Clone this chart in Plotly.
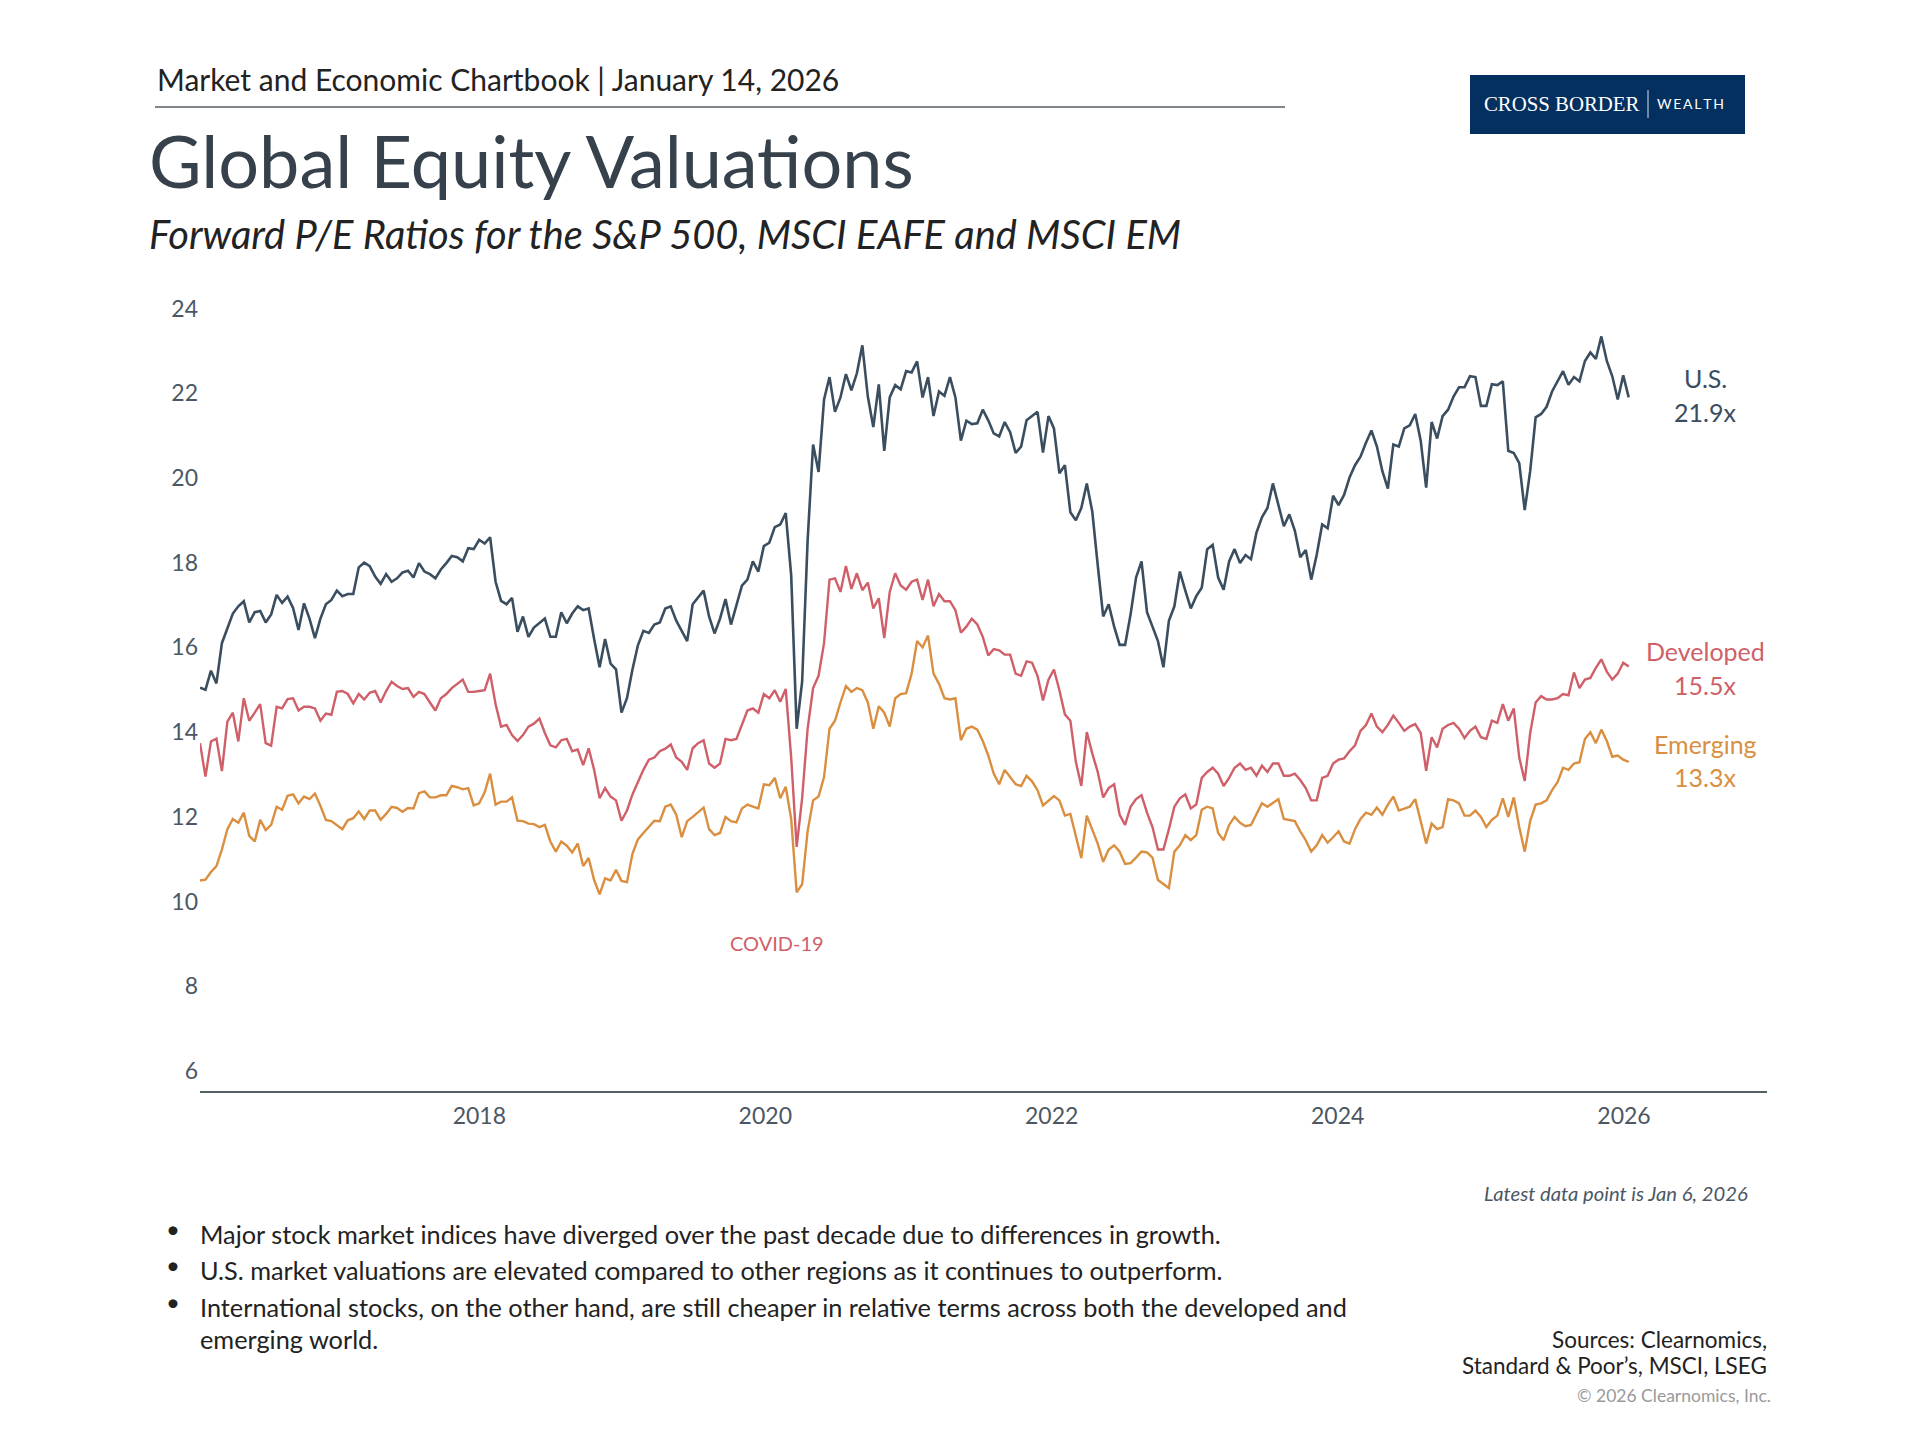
import pandas as pd
import plotly.graph_objects as go

# roughly biweekly readings
dates = pd.date_range("2016-01-19", "2026-01-13", periods=262)

us = [15.05,15.0,15.45,15.15,16.1,16.44,16.8,16.97,17.09,16.59,16.83,16.86,16.59,16.78,17.24,17.05,17.2,16.93,16.41,17.04,16.68,
      16.22,16.68,17.02,17.12,17.34,17.21,17.26,17.26,17.89,18.0,17.92,17.67,17.5,17.73,17.55,17.63,17.77,17.81,17.65,17.99,
      17.79,17.73,17.63,17.84,17.99,18.16,18.13,18.03,18.34,18.32,18.54,18.45,18.6,17.55,17.1,17.02,17.17,16.37,16.73,16.25,
      16.47,16.57,16.68,16.25,16.25,16.83,16.57,16.8,16.97,16.88,16.92,16.2,15.53,16.2,15.62,15.48,14.46,14.8,15.48,16.05,
      16.39,16.34,16.54,16.59,16.92,16.97,16.63,16.39,16.15,17.02,17.17,17.34,16.73,16.33,16.68,17.14,16.54,16.97,17.46,17.6,
      18.03,17.79,18.39,18.47,18.84,18.9,19.17,17.7,14.08,15.19,18.52,20.79,20.14,21.85,22.38,21.56,21.9,22.45,22.07,22.47,
      23.13,21.92,21.2,22.21,20.64,21.9,22.19,22.09,22.52,22.49,22.75,21.9,22.38,21.46,22.04,21.94,22.38,21.9,20.88,21.35,
      21.27,21.29,21.61,21.36,21.05,20.98,21.32,21.08,20.59,20.74,21.36,21.46,21.56,20.6,21.46,21.17,20.11,20.3,19.19,19.0,
      19.29,19.87,19.21,17.94,16.73,17.02,16.49,16.06,16.06,16.78,17.65,18.03,16.83,16.49,16.15,15.53,16.63,16.97,17.79,17.34,
      16.92,17.21,17.41,18.32,18.42,17.65,17.36,18.03,18.32,17.99,18.18,18.08,18.71,19.07,19.29,19.87,19.39,18.86,19.14,18.76,
      18.13,18.3,17.6,18.18,18.9,18.81,19.58,19.36,19.6,20.01,20.3,20.5,20.83,21.12,20.74,20.16,19.75,20.79,20.74,21.17,
      21.24,21.51,20.88,19.77,21.32,20.93,21.46,21.61,21.92,22.14,22.14,22.4,22.38,21.7,21.7,22.21,22.19,22.28,20.64,20.59,
      20.35,19.24,20.16,21.43,21.51,21.68,22.04,22.28,22.52,22.2,22.38,22.28,22.76,22.96,22.81,23.34,22.76,22.4,21.85,22.42,21.9]

developed = [13.74,12.95,13.78,13.85,13.08,14.25,14.46,13.78,14.8,14.27,14.46,14.66,13.74,13.68,14.6,14.56,14.78,14.8,14.51,14.6,14.6,
      14.56,14.27,14.44,14.41,14.95,14.97,14.9,14.68,14.9,14.77,14.93,14.97,14.7,14.97,15.19,15.09,15.02,15.04,14.83,14.95,
      14.9,14.7,14.51,14.8,14.9,15.04,15.14,15.24,14.95,14.95,14.97,14.99,15.38,14.66,14.13,14.17,13.93,13.79,13.93,14.13,
      14.2,14.32,13.98,13.69,13.64,13.81,13.84,13.55,13.59,13.22,13.62,13.11,12.44,12.68,12.48,12.39,11.91,12.15,12.53,12.82,
      13.11,13.35,13.4,13.55,13.61,13.71,13.4,13.3,13.11,13.62,13.74,13.81,13.26,13.16,13.26,13.84,13.81,13.84,14.17,14.51,
      14.56,14.46,14.9,14.8,14.99,14.72,15.02,13.4,11.29,12.44,14.08,15.04,15.33,16.1,17.6,17.63,17.31,17.92,17.38,17.75,
      17.35,17.53,16.92,17.16,16.22,17.31,17.75,17.46,17.36,17.55,17.6,17.12,17.6,16.97,17.26,17.09,17.09,16.88,16.35,16.49,
      16.68,16.54,16.25,15.81,15.96,15.93,15.83,15.83,15.38,15.33,15.67,15.64,15.33,14.75,15.24,15.48,14.99,14.42,14.27,13.3,
      12.73,14.0,13.5,13.06,12.46,12.68,12.77,12.05,11.81,12.24,12.42,12.51,12.1,11.76,11.23,11.23,11.71,12.24,12.44,12.53,
      12.2,12.29,12.92,13.06,13.16,13.02,12.73,12.92,13.16,13.26,13.11,13.16,12.97,13.21,13.06,13.26,13.26,12.97,12.97,13.02,
      12.87,12.68,12.39,12.39,12.92,12.97,13.26,13.35,13.38,13.55,13.69,14.03,14.17,14.44,14.13,14.0,14.17,14.39,14.22,14.03,
      14.13,14.19,13.98,13.09,13.88,13.64,14.08,14.17,14.22,14.08,13.86,14.03,14.13,13.88,13.84,14.27,14.22,14.66,14.27,14.56,
      13.4,12.85,13.98,14.7,14.85,14.77,14.77,14.8,14.9,14.87,15.41,15.04,15.24,15.28,15.52,15.72,15.43,15.24,15.38,15.64,15.55]

emerging = [10.5,10.52,10.7,10.84,11.23,11.71,11.95,11.86,12.1,11.55,11.42,11.93,11.69,11.81,12.24,12.17,12.5,12.53,12.32,12.48,12.42,
      12.55,12.26,11.93,11.9,11.81,11.71,11.92,11.97,12.13,11.95,12.15,12.15,11.93,12.07,12.24,12.21,12.12,12.21,12.2,12.56,
      12.6,12.46,12.46,12.51,12.51,12.73,12.7,12.65,12.68,12.27,12.32,12.58,13.02,12.29,12.36,12.36,12.46,11.91,11.9,11.84,
      11.83,11.76,11.81,11.42,11.18,11.42,11.32,11.16,11.37,10.84,11.03,10.51,10.17,10.55,10.5,10.75,10.49,10.46,11.13,11.47,
      11.62,11.76,11.91,11.9,12.24,12.29,12.05,11.52,11.9,12.0,12.1,12.22,11.71,11.57,11.62,12.0,11.9,11.87,12.2,12.29,
      12.24,12.2,12.77,12.75,12.92,12.44,12.71,11.95,10.22,10.41,11.66,12.39,12.48,12.94,14.08,14.27,14.7,15.09,14.95,15.04,
      14.99,14.7,14.08,14.61,14.46,14.13,14.8,14.9,14.92,15.38,16.15,16.0,16.28,15.38,15.14,14.8,14.77,14.8,13.81,14.08,
      14.13,14.06,13.79,13.45,13.02,12.77,13.11,12.94,12.77,12.73,12.97,12.84,12.63,12.27,12.39,12.49,12.39,12.03,12.07,11.57,
      11.03,12.03,11.71,11.37,10.94,11.23,11.33,11.18,10.89,10.91,11.04,11.18,11.16,11.04,10.51,10.41,10.32,11.18,11.33,11.57,
      11.45,11.57,12.17,12.24,12.2,11.62,11.45,11.81,12.0,11.86,11.78,11.81,12.05,12.32,12.24,12.32,12.42,11.95,11.93,11.9,
      11.66,11.45,11.18,11.33,11.57,11.39,11.52,11.66,11.42,11.37,11.71,11.95,12.1,12.05,12.22,12.05,12.29,12.48,12.15,12.2,
      12.24,12.42,11.86,11.37,11.84,11.71,11.76,12.42,12.39,12.32,12.03,12.03,12.15,12.0,11.76,11.93,12.03,12.44,12.0,12.46,
      11.76,11.18,11.9,12.29,12.32,12.39,12.63,12.82,13.16,13.11,13.26,13.29,13.84,14.0,13.74,14.06,13.79,13.42,13.45,13.35,13.3]

y_ticks = [6, 8, 10, 12, 14, 16, 18, 20, 22, 24]
x_ticks = ["2018-01-01", "2020-01-01", "2022-01-01", "2024-01-01", "2026-01-01"]
x_labels = ["2018", "2020", "2022", "2024", "2026"]

bullets = [
    "Major stock market indices have diverged over the past decade due to differences in growth.",
    "U.S. market valuations are elevated compared to other regions as it continues to outperform.",
    "International stocks, on the other hand, are still cheaper in relative terms across both the developed and",
    "emerging world.",
]

W, H = 1920, 1440
FONT = "Lato"
NAVY = "#3a4e5f"
RED = "#cf5f68"
ORANGE = "#d98f3f"
GREY = "#4b5763"


def px(x):
    return x / W


def py(y):
    return 1 - y / H


fig = go.Figure()
fig.add_trace(go.Scatter(x=dates, y=emerging, mode="lines", line=dict(color=ORANGE, width=2.4), name="Emerging"))
fig.add_trace(go.Scatter(x=dates, y=developed, mode="lines", line=dict(color=RED, width=2.4), name="Developed"))
fig.add_trace(go.Scatter(x=dates, y=us, mode="lines", line=dict(color=NAVY, width=2.6), name="U.S."))


def note(text, x, y, size, color="#222222", anchor="left", italic=False, family=FONT):
    fig.add_annotation(
        text="<i>" + text + "</i>" if italic else text,
        x=px(x), y=py(y), xref="paper", yref="paper",
        xanchor=anchor, yanchor="middle", align=anchor,
        showarrow=False, font=dict(size=size, color=color, family=family),
    )


note("Market and Economic Chartbook | January 14, 2026", 146.5, 71, 30)
note("Global Equity Valuations", 139, 152, 72, color="#36414c")
note("Forward P/E Ratios for the S&P 500, MSCI EAFE and MSCI EM", 139, 225, 39.8, italic=True)

note("U.S.", 1697, 370, 25, color=NAVY, anchor="center")
note("21.9x", 1697, 404, 25, color=NAVY, anchor="center")
note("Developed", 1697, 643, 25, color=RED, anchor="center")
note("15.5x", 1697, 677, 25, color=RED, anchor="center")
note("Emerging", 1697, 736, 25, color=ORANGE, anchor="center")
note("13.3x", 1697, 769, 25, color=ORANGE, anchor="center")
note("COVID-19", 769, 935, 20, color=RED, anchor="center")

note("Latest data point is Jan 6, 2026", 1742, 1185, 20.2, color=GREY, anchor="right", italic=True)

for text, y in zip(bullets, [1226, 1262, 1299, 1331]):
    note(text, 190, y, 25.3)
for y in [1226, 1262, 1299]:
    note("•", 156, y - 6, 24)

note("Sources: Clearnomics,", 1761, 1331, 22.5, anchor="right")
note("Standard &amp; Poor’s, MSCI, LSEG", 1761, 1357, 22.5, anchor="right")
note("© 2026 Clearnomics, Inc.", 1765, 1387, 17.5, color="#9a9a9a", anchor="right")

# logo box and header rule
fig.add_shape(type="rect", xref="paper", yref="paper", x0=px(1462), x1=px(1737), y0=py(67), y1=py(126),
              fillcolor="#03305f", line_width=0)
fig.add_shape(type="line", xref="paper", yref="paper", x0=px(1640), x1=px(1640), y0=py(82), y1=py(110),
              line=dict(color="#d8dfe8", width=1))
fig.add_shape(type="line", xref="paper", yref="paper", x0=px(147), x1=px(1277), y0=py(99), y1=py(99),
              line=dict(color="#555f66", width=1.5))
note("CROSS BORDER", 1474, 96, 20.8, color="#ffffff", family="Liberation Serif")
note("W\u2009E\u2009A\u2009L\u2009T\u2009H", 1647, 96, 14, color="#ffffff")

fig.update_layout(
    width=W, height=H,
    margin=dict(l=0, r=0, t=0, b=0),
    paper_bgcolor="white", plot_bgcolor="white",
    showlegend=False,
    font=dict(family=FONT, color=GREY, size=23),
)
fig.update_xaxes(
    domain=[px(192), px(1759)], range=["2016-01-19", "2027-01-01"], type="date",
    tickvals=x_ticks, ticktext=x_labels, showgrid=False, zeroline=False,
    showline=True, linecolor="#555f66", linewidth=1.5, ticks="", ticklabelstandoff=4,
)
fig.update_yaxes(
    domain=[py(1082.6), py(278)], range=[5.54, 24.53],
    tickvals=y_ticks, showgrid=False, zeroline=False, showline=False, ticks="",
    ticklabelstandoff=1,
)

fig.write_html("out.html")
